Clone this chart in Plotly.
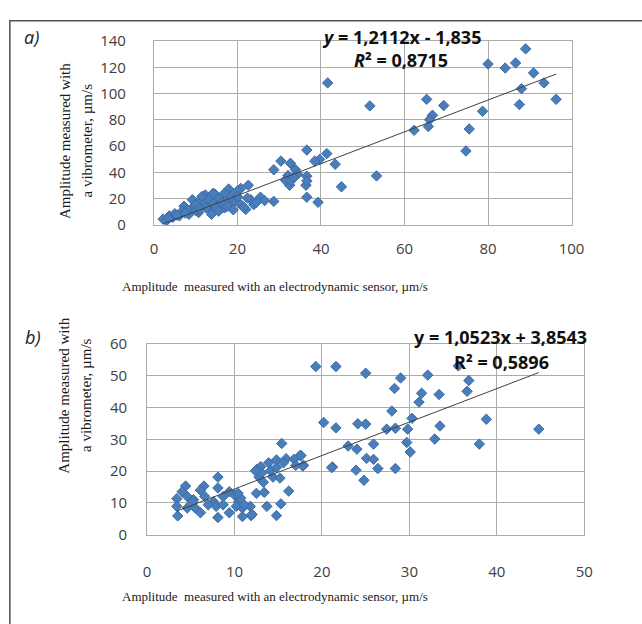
import plotly.graph_objects as go

W, H = 642, 624

# ---------- data panel a ----------
a_x = [89, 80.0, 84.1, 86.6, 90.9, 93.4, 88.0, 87.5, 96.3, 78.7, 65.3, 69.4, 66.7, 66.0, 65.7, 62.3,
       75.5, 74.7, 53.3, 41.6, 51.7, 44.9, 43.4, 41.4, 39.7, 38.5, 39.3, 36.6, 36.6, 36.4, 36.6, 36.6,
       30.4, 32.7, 28.7, 33.9, 34.4, 32.1, 31.5, 32.5, 32.9, 33.5, 28.7, 25.5, 22.6, 20.8, 17.9,
       12.3, 14.6, 15.4, 9.2, 10.7, 7.2, 23.2, 23.9, 22.0, 18.5, 16.9, 13.4, 13.8, 10.7, 8.4, 6.1,
       3.7, 2.2, 3.0, 4.5, 6.8, 9.2, 11.9, 19.3, 20.8, 16.2, 14.6, 17.7, 13.8, 13.1, 11.5, 16.9,
       18.5, 22.4, 20.0, 14.2, 20.0, 5.0, 8.0, 10.0, 12.5, 15.5, 17.5, 19.0, 21.5, 24.5, 26.5,
       3.5, 5.5, 7.5, 10.0, 11.0]
a_y = [134, 122.5, 119.4, 123.3, 115.7, 108.1, 103.7, 91.6, 95.6, 86.5, 95.6, 90.9, 83.5, 80.1, 74.9, 72.0,
       73.0, 56.3, 37.3, 108.1, 90.6, 29.0, 46.2, 54.3, 49.9, 48.6, 17.2, 57.0, 37.1, 30.2, 21.1, 33.5,
       48.6, 46.9, 42.0, 42.0, 38.6, 37.6, 33.9, 30.2, 33.9, 36.0, 17.9, 21.1, 30.2, 27.8, 27.3,
       22.8, 23.4, 20.4, 19.2, 17.9, 14.2, 19.2, 15.5, 11.8, 15.5, 13.0, 11.8, 8.1, 9.4, 8.1, 6.9,
       6.9, 4.4, 3.2, 5.7, 10.5, 13.0, 15.5, 17.9, 15.5, 16.7, 14.2, 20.4, 17.9, 20.4, 21.6, 24.1,
       21.6, 20.4, 25.8, 24.1, 21.6, 8.5, 11.5, 15.5, 13.0, 10.5, 14.0, 11.5, 13.5, 17.0, 18.5,
       5.0, 7.5, 9.0, 11.0, 12.0]

# ---------- data panel b ----------
b_x = [44.8, 38.8, 38.0, 36.8, 36.6, 35.6, 32.1, 29.0, 28.3, 31.4, 31.1, 33.4, 28.0, 30.3, 29.8, 27.4,
       28.4, 33.5, 32.9, 29.7, 30.1, 25.9, 25.0, 25.0, 25.1, 25.9, 26.4, 28.4, 24.8, 19.3, 21.6, 20.2,
       21.6, 24.1, 23.0, 24.0, 21.2, 23.9, 15.4, 17.5, 17.9, 16.2, 15.3, 14.8, 13.7, 12.5, 13.4, 11.9,
       10.9, 8.1, 8.1, 4.4, 3.5, 3.4, 3.4,
       6.5, 6.1, 8.1, 4.0, 4.6, 5.3, 6.6, 7.6, 8.7, 9.4, 4.6, 5.5, 6.1, 7.0, 7.9, 8.7, 9.4, 10.0, 10.5,
       10.9, 10.2, 5.2,
       12.6, 13.0, 13.9, 14.8, 15.9, 16.8, 17.6, 17.8, 17.0, 21.1, 14.1, 14.8, 15.6, 12.8, 14.4, 15.2,
       13.3, 11.8, 11.1, 10.7, 10.4, 12.0, 13.1, 12.4]
b_y = [33.2, 36.3, 28.5, 48.5, 45.1, 53.1, 50.2, 49.3, 46.0, 44.5, 41.7, 44.1, 38.9, 36.6, 33.2, 33.2,
       33.5, 34.2, 30.1, 29.0, 26.0, 28.5, 34.8, 50.8, 24.0, 23.7, 20.8, 20.8, 17.1, 52.9, 52.9, 35.3,
       33.6, 34.9, 27.9, 26.9, 21.3, 20.3, 28.7, 24.9, 21.8, 13.7, 9.7, 6.0, 8.9, 13.0, 13.3, 6.0,
       5.7, 18.1, 5.4, 15.3, 5.9, 11.3, 8.9,
       15.3, 14.0, 14.7, 13.5, 12.0, 11.0, 12.0, 10.4, 12.0, 13.5, 8.4, 8.4, 6.9, 9.4, 8.9, 9.4, 6.9, 12.5, 10.4,
       8.4, 8.9, 10.4,
       20.6, 21.4, 22.6, 23.5, 23.9, 23.7, 24.9, 21.6, 21.8, 21.1, 20.1, 21.1, 22.6, 18.1, 18.1, 17.8,
       16.5, 8.9, 9.4, 11.5, 13.0, 6.4, 19.4, 20.1]

a_slope, a_icpt = 1.2112, -1.835
b_slope, b_icpt = 1.0523, 3.8543

a_xticks = [0, 20, 40, 60, 80, 100]
a_yticks = [0, 20, 40, 60, 80, 100, 120, 140]
b_xticks = [0, 10, 20, 30, 40, 50]
b_yticks = [0, 10, 20, 30, 40, 50, 60]

xtitle = "Amplitude  measured with an electrodynamic sensor, µm/s"
ytitle1 = "Amplitude measured with"
ytitle2 = "a vibrometer, µm/s"

MC = "#4A7EBB"
MLC = "#3A6BA5"
GRID = "#ABABAB"

def px_x(p):
    return p / W

def px_y(p):
    return (H - p) / H

fig = go.Figure()
marker = dict(symbol="diamond", size=8, color=MC, line=dict(color=MLC, width=1))
fig.add_trace(go.Scatter(x=a_x, y=a_y, mode="markers", marker=marker, xaxis="x", yaxis="y",
                         showlegend=False, hoverinfo="x+y"))
ax0, ax1 = min(a_x), max(a_x)
fig.add_trace(go.Scatter(x=[ax0, ax1], y=[a_slope * ax0 + a_icpt, a_slope * ax1 + a_icpt], mode="lines",
                         line=dict(color="#404040", width=1), xaxis="x", yaxis="y", showlegend=False))
fig.add_trace(go.Scatter(x=b_x, y=b_y, mode="markers", marker=marker, xaxis="x2", yaxis="y2",
                         showlegend=False, hoverinfo="x+y"))
bx0, bx1 = min(b_x), max(b_x)
fig.add_trace(go.Scatter(x=[bx0, bx1], y=[b_slope * bx0 + b_icpt, b_slope * bx1 + b_icpt], mode="lines",
                         line=dict(color="#404040", width=1), xaxis="x2", yaxis="y2", showlegend=False))

tickfont = dict(family="Open Sans", size=15, color="#404040")
common = dict(showgrid=True, gridcolor=GRID, gridwidth=1, showline=True, linecolor=GRID, linewidth=1,
              mirror=True, ticks="", zeroline=False, tickfont=tickfont, fixedrange=True)

fig.update_layout(
    width=W, height=H, margin=dict(l=0, r=0, t=0, b=0),
    paper_bgcolor="white", plot_bgcolor="white",
    xaxis=dict(domain=[px_x(154), px_x(583)], range=[0, 100], tickvals=a_xticks, anchor="y",
               ticklabelstandoff=10, **common),
    yaxis=dict(domain=[px_y(221), px_y(31)], range=[0, 140], tickvals=a_yticks, anchor="x",
               ticklabelstandoff=24, **common),
    xaxis2=dict(domain=[px_x(147), px_x(596)], range=[0, 50], tickvals=b_xticks, anchor="y2",
                ticklabelstandoff=23, **common),
    yaxis2=dict(domain=[px_y(541), px_y(344)], range=[0, 60], tickvals=b_yticks, anchor="x2",
                ticklabelstandoff=16, **common),
)

serif_x = dict(family="Liberation Serif", size=13, color="#1a1a1a")
serif_y = dict(family="Liberation Serif", size=15, color="#1a1a1a")
eqfont = dict(family="Open Sans", size=18, color="#111111")
ann = [
    dict(text=xtitle, x=px_x(278), y=px_y(285), font=serif_x),
    dict(text=xtitle, x=px_x(278), y=px_y(605), font=serif_x),
    dict(text=ytitle1, x=px_x(62), y=px_y(134), font=serif_y, textangle=-90),
    dict(text=ytitle2, x=px_x(85), y=px_y(134), font=serif_y, textangle=-90),
    dict(text=ytitle1, x=px_x(62), y=px_y(397), font=serif_y, textangle=-90),
    dict(text=ytitle2, x=px_x(85), y=px_y(397), font=serif_y, textangle=-90),
    dict(text="<b><i>y</i> = 1,2112x - 1,835</b>", x=px_x(408), y=px_y(27), font=eqfont),
    dict(text="<b><i>R</i>² = 0,8715</b>", x=px_x(408), y=px_y(51), font=eqfont),
    dict(text="<b>y = 1,0523x + 3,8543</b>", x=px_x(510), y=px_y(337), font=eqfont),
    dict(text="<b>R² = 0,5896</b>", x=px_x(511), y=px_y(363), font=eqfont),
    dict(text="<i>a)</i>", x=px_x(28), y=px_y(27), font=dict(family="Open Sans", size=18, color="#222")),
    dict(text="<i>b)</i>", x=px_x(30), y=px_y(337), font=dict(family="Open Sans", size=18, color="#222")),
]
for a in ann:
    a.update(xref="paper", yref="paper", showarrow=False, xanchor="center", yanchor="middle")
fig.update_layout(annotations=ann)

fig.add_shape(type="rect", xref="paper", yref="paper", x0=px_x(6), x1=1.2, y0=-0.2, y1=px_y(10),
              line=dict(color="#505050", width=1.5), layer="above")

fig.write_html("out.html", config={"displayModeBar": False},
               post_script="document.body.style.margin='0';document.body.style.overflow='hidden';")
